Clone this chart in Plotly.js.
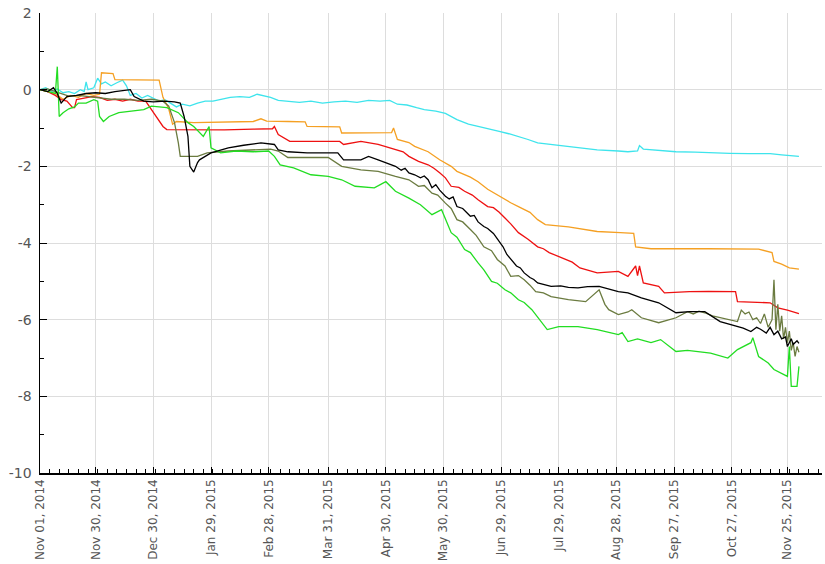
<!DOCTYPE html>
<html>
<head>
<meta charset="utf-8">
<script src="https://cdn.plot.ly/plotly-3.0.1.min.js"></script>
<style>html,body{margin:0;padding:0;background:#fff;}#chart{width:825px;height:564px;}</style>
</head>
<body>
<div id="chart"></div>
<script>
// ---- data ----
const cyanDates = ["2014-11-01","2014-11-04","2014-11-07","2014-11-10","2014-11-13","2014-11-16","2014-11-19","2014-11-22","2014-11-24","2014-11-25","2014-11-26","2014-11-29","2014-12-01","2014-12-03","2014-12-05","2014-12-08","2014-12-11","2014-12-14","2014-12-16","2014-12-18","2014-12-21","2014-12-24","2014-12-27","2014-12-29","2015-01-02","2015-01-05","2015-01-08","2015-01-11","2015-01-14","2015-01-18","2015-01-22","2015-01-26","2015-01-30","2015-02-03","2015-02-08","2015-02-13","2015-02-18","2015-02-22","2015-02-25","2015-03-01","2015-03-05","2015-03-10","2015-03-16","2015-03-22","2015-03-28","2015-04-03","2015-04-09","2015-04-15","2015-04-21","2015-04-27","2015-05-02","2015-05-06","2015-05-11","2015-05-16","2015-05-20","2015-05-26","2015-05-31","2015-06-06","2015-06-12","2015-06-17","2015-06-23","2015-06-28","2015-07-03","2015-07-08","2015-07-13","2015-07-18","2015-07-23","2015-07-29","2015-08-08","2015-08-18","2015-08-29","2015-09-03","2015-09-08","2015-09-09","2015-09-11","2015-09-18","2015-09-28","2015-10-08","2015-10-16","2015-10-26","2015-11-05","2015-11-16","2015-11-22","2015-11-26","2015-12-01"];
const cyanValues = [0,0.05,-0.05,0.02,-0.08,-0.05,-0.1,0.0,-0.05,0.2,0.0,0.05,0.3,0.15,0.2,0.1,0.18,0.25,0.1,-0.15,-0.1,-0.22,-0.15,-0.2,-0.3,-0.26,-0.35,-0.45,-0.38,-0.42,-0.35,-0.3,-0.3,-0.25,-0.2,-0.18,-0.2,-0.12,-0.15,-0.2,-0.28,-0.3,-0.33,-0.3,-0.35,-0.32,-0.3,-0.33,-0.28,-0.3,-0.28,-0.38,-0.4,-0.47,-0.52,-0.56,-0.62,-0.78,-0.9,-0.96,-1.02,-1.09,-1.15,-1.22,-1.3,-1.39,-1.42,-1.46,-1.52,-1.57,-1.6,-1.62,-1.6,-1.46,-1.55,-1.58,-1.62,-1.63,-1.65,-1.66,-1.67,-1.67,-1.7,-1.72,-1.74];

const orangeDates = ["2014-11-01","2014-11-05","2014-11-09","2014-11-13","2014-11-17","2014-11-21","2014-11-25","2014-11-29","2014-12-02","2014-12-03","2014-12-09","2014-12-10","2014-12-20","2014-12-28","2015-01-02","2015-01-04","2015-01-07","2015-01-09","2015-01-11","2015-01-20","2015-01-29","2015-02-10","2015-02-20","2015-02-24","2015-02-27","2015-03-10","2015-03-19","2015-03-20","2015-04-06","2015-04-07","2015-04-20","2015-05-03","2015-05-04","2015-05-06","2015-05-12","2015-05-15","2015-05-22","2015-05-28","2015-06-03","2015-06-06","2015-06-13","2015-06-17","2015-06-22","2015-06-28","2015-07-04","2015-07-08","2015-07-14","2015-07-18","2015-07-22","2015-08-03","2015-08-18","2015-08-30","2015-09-06","2015-09-07","2015-09-15","2015-10-15","2015-11-10","2015-11-17","2015-11-18","2015-11-22","2015-11-26","2015-12-01"];
const orangeValues = [0,-0.05,-0.1,-0.25,-0.15,-0.2,-0.1,-0.15,-0.12,0.44,0.42,0.26,0.26,0.25,0.25,-0.2,-0.5,-0.9,-0.83,-0.86,-0.85,-0.84,-0.83,-0.76,-0.82,-0.83,-0.84,-0.96,-0.97,-1.13,-1.12,-1.12,-1.0,-1.3,-1.38,-1.48,-1.62,-1.83,-2.0,-2.13,-2.28,-2.4,-2.6,-2.78,-2.95,-3.05,-3.2,-3.39,-3.52,-3.58,-3.7,-3.73,-3.75,-4.1,-4.15,-4.15,-4.16,-4.25,-4.48,-4.55,-4.65,-4.68];

const redDates = ["2014-11-01","2014-11-05","2014-11-09","2014-11-12","2014-11-15","2014-11-18","2014-11-19","2014-11-20","2014-11-24","2014-11-28","2014-12-02","2014-12-06","2014-12-10","2014-12-14","2014-12-18","2014-12-22","2014-12-26","2014-12-29","2014-12-31","2015-01-02","2015-01-04","2015-01-06","2015-01-20","2015-02-05","2015-02-20","2015-03-02","2015-03-03","2015-03-05","2015-03-11","2015-03-25","2015-04-06","2015-04-08","2015-04-17","2015-04-26","2015-05-05","2015-05-09","2015-05-12","2015-05-17","2015-05-22","2015-05-25","2015-05-28","2015-05-31","2015-06-03","2015-06-07","2015-06-10","2015-06-14","2015-06-17","2015-06-22","2015-06-25","2015-06-28","2015-07-01","2015-07-04","2015-07-08","2015-07-13","2015-07-18","2015-07-21","2015-07-24","2015-07-30","2015-08-05","2015-08-09","2015-08-18","2015-08-29","2015-09-03","2015-09-07","2015-09-08","2015-09-09","2015-09-11","2015-09-19","2015-09-22","2015-10-05","2015-10-15","2015-10-29","2015-10-30","2015-11-16","2015-11-20","2015-11-25","2015-12-01"];
const redValues = [0,-0.05,-0.15,-0.26,-0.3,-0.47,-0.47,-0.26,-0.22,-0.18,-0.2,-0.28,-0.25,-0.3,-0.25,-0.3,-0.3,-0.52,-0.65,-0.8,-0.96,-1.04,-1.04,-1.05,-1.03,-1.02,-0.96,-1.17,-1.35,-1.36,-1.35,-1.43,-1.35,-1.43,-1.57,-1.62,-1.74,-1.87,-1.96,-2.05,-2.17,-2.3,-2.52,-2.55,-2.65,-2.75,-2.87,-3.05,-3.08,-3.2,-3.35,-3.5,-3.73,-3.9,-4.1,-4.15,-4.25,-4.38,-4.5,-4.65,-4.78,-4.74,-4.87,-4.6,-4.85,-4.6,-5.04,-5.13,-5.3,-5.27,-5.26,-5.27,-5.53,-5.56,-5.69,-5.75,-5.84];

const blackDates = ["2014-11-01","2014-11-05","2014-11-08","2014-11-10","2014-11-12","2014-11-15","2014-11-20","2014-11-25","2014-11-30","2014-12-05","2014-12-10","2014-12-15","2014-12-18","2014-12-20","2014-12-25","2014-12-30","2015-01-05","2015-01-10","2015-01-13","2015-01-15","2015-01-17","2015-01-18","2015-01-20","2015-01-22","2015-01-23","2015-01-29","2015-02-07","2015-02-15","2015-02-24","2015-03-03","2015-03-05","2015-03-10","2015-03-20","2015-04-05","2015-04-08","2015-04-17","2015-04-21","2015-04-26","2015-05-05","2015-05-08","2015-05-10","2015-05-12","2015-05-15","2015-05-18","2015-05-20","2015-05-22","2015-05-24","2015-05-26","2015-05-28","2015-05-31","2015-06-02","2015-06-04","2015-06-06","2015-06-09","2015-06-11","2015-06-13","2015-06-15","2015-06-17","2015-06-20","2015-06-22","2015-06-25","2015-06-27","2015-06-30","2015-07-02","2015-07-04","2015-07-07","2015-07-09","2015-07-11","2015-07-14","2015-07-16","2015-07-18","2015-07-21","2015-07-25","2015-07-30","2015-08-03","2015-08-08","2015-08-13","2015-08-19","2015-08-29","2015-09-03","2015-09-10","2015-09-19","2015-09-28","2015-10-05","2015-10-13","2015-10-21","2015-10-25","2015-10-30","2015-11-02","2015-11-06","2015-11-09","2015-11-11","2015-11-14","2015-11-16","2015-11-18","2015-11-20","2015-11-22","2015-11-24","2015-11-25","2015-11-27","2015-11-28","2015-11-30","2015-12-01"];
const blackValues = [0,-0.05,0.05,-0.1,-0.35,-0.18,-0.15,-0.1,-0.08,-0.1,-0.05,-0.02,0.0,-0.18,-0.3,-0.32,-0.3,-0.32,-0.35,-0.7,-1.22,-2.0,-2.15,-1.9,-1.83,-1.65,-1.52,-1.45,-1.39,-1.43,-1.57,-1.62,-1.65,-1.65,-1.83,-1.83,-1.74,-1.83,-2.0,-2.1,-2.05,-2.17,-2.22,-2.3,-2.25,-2.35,-2.56,-2.48,-2.62,-2.78,-2.85,-2.8,-3.05,-3.1,-3.2,-3.3,-3.28,-3.45,-3.57,-3.62,-3.75,-3.9,-4.1,-4.3,-4.43,-4.6,-4.65,-4.78,-4.9,-4.95,-5.04,-5.08,-5.13,-5.12,-5.16,-5.17,-5.14,-5.13,-5.27,-5.3,-5.43,-5.56,-5.82,-5.79,-5.79,-6.05,-6.1,-6.18,-6.22,-6.31,-6.2,-6.25,-6.35,-6.2,-6.39,-6.3,-6.5,-6.45,-6.7,-6.5,-6.65,-6.55,-6.62];

const oliveDates = ["2014-11-01","2014-11-05","2014-11-09","2014-11-12","2014-11-16","2014-11-21","2014-11-26","2014-12-01","2014-12-08","2014-12-15","2014-12-22","2014-12-29","2015-01-04","2015-01-07","2015-01-10","2015-01-12","2015-01-13","2015-01-22","2015-01-27","2015-02-07","2015-02-20","2015-03-01","2015-03-05","2015-03-10","2015-03-31","2015-04-07","2015-04-17","2015-04-26","2015-05-05","2015-05-12","2015-05-17","2015-05-20","2015-05-24","2015-05-27","2015-05-31","2015-06-03","2015-06-06","2015-06-09","2015-06-13","2015-06-16","2015-06-20","2015-06-24","2015-06-27","2015-07-01","2015-07-04","2015-07-08","2015-07-11","2015-07-14","2015-07-17","2015-07-21","2015-07-25","2015-08-03","2015-08-12","2015-08-19","2015-08-22","2015-08-24","2015-08-29","2015-09-03","2015-09-05","2015-09-10","2015-09-19","2015-09-28","2015-10-04","2015-10-07","2015-10-10","2015-10-13","2015-10-17","2015-10-21","2015-10-25","2015-10-30","2015-11-01","2015-11-03","2015-11-05","2015-11-07","2015-11-09","2015-11-11","2015-11-13","2015-11-15","2015-11-17","2015-11-18","2015-11-19","2015-11-20","2015-11-21","2015-11-22","2015-11-23","2015-11-24","2015-11-25","2015-11-26","2015-11-27","2015-11-28","2015-11-29","2015-11-30","2015-12-01"];
const oliveValues = [0,0.02,-0.05,-0.1,-0.17,-0.15,-0.18,-0.22,-0.25,-0.25,-0.28,-0.25,-0.3,-0.43,-0.86,-1.39,-1.74,-1.74,-1.65,-1.6,-1.58,-1.55,-1.6,-1.77,-1.77,-2.0,-2.09,-2.13,-2.26,-2.35,-2.52,-2.5,-2.7,-2.75,-2.96,-3.1,-3.39,-3.45,-3.65,-3.8,-4.1,-4.2,-4.43,-4.6,-4.87,-4.85,-4.96,-5.1,-5.27,-5.3,-5.4,-5.48,-5.53,-5.22,-5.6,-5.74,-5.87,-5.8,-5.74,-5.95,-6.08,-5.95,-5.79,-5.85,-5.78,-5.82,-5.9,-5.95,-6.0,-6.05,-5.75,-5.85,-5.8,-6.0,-5.95,-6.1,-5.85,-6.2,-6.0,-4.96,-6.26,-5.6,-6.3,-5.9,-6.5,-6.2,-6.6,-6.3,-6.8,-6.6,-6.96,-6.7,-6.85];

const greenDates = ["2014-11-01","2014-11-05","2014-11-09","2014-11-10","2014-11-11","2014-11-13","2014-11-16","2014-11-19","2014-11-21","2014-11-25","2014-11-29","2014-12-01","2014-12-02","2014-12-04","2014-12-07","2014-12-12","2014-12-17","2014-12-25","2014-12-29","2015-01-06","2015-01-12","2015-01-17","2015-01-20","2015-01-25","2015-01-28","2015-01-29","2015-02-03","2015-02-11","2015-02-20","2015-02-28","2015-03-03","2015-03-06","2015-03-13","2015-03-22","2015-03-31","2015-04-07","2015-04-14","2015-04-24","2015-04-30","2015-05-05","2015-05-12","2015-05-18","2015-05-24","2015-05-29","2015-06-03","2015-06-06","2015-06-10","2015-06-13","2015-06-17","2015-06-20","2015-06-24","2015-06-27","2015-07-01","2015-07-04","2015-07-08","2015-07-11","2015-07-15","2015-07-20","2015-07-23","2015-07-29","2015-08-08","2015-08-18","2015-08-29","2015-08-31","2015-09-03","2015-09-08","2015-09-15","2015-09-20","2015-09-28","2015-10-04","2015-10-16","2015-10-25","2015-10-30","2015-11-06","2015-11-07","2015-11-10","2015-11-15","2015-11-18","2015-11-22","2015-11-25","2015-11-26","2015-11-27","2015-11-30","2015-12-01"];
const greenValues = [0,-0.05,-0.1,0.6,-0.7,-0.6,-0.5,-0.45,-0.35,-0.35,-0.26,-0.3,-0.7,-0.83,-0.7,-0.6,-0.57,-0.52,-0.43,-0.47,-0.6,-0.86,-0.96,-1.22,-0.96,-1.52,-1.65,-1.6,-1.62,-1.6,-1.74,-1.96,-2.04,-2.22,-2.26,-2.35,-2.52,-2.56,-2.4,-2.65,-2.83,-3.0,-3.26,-3.13,-3.73,-3.85,-4.17,-4.25,-4.52,-4.7,-5.0,-5.05,-5.22,-5.3,-5.48,-5.55,-5.74,-6.08,-6.26,-6.18,-6.18,-6.26,-6.39,-6.34,-6.57,-6.5,-6.6,-6.52,-6.83,-6.8,-6.87,-7.0,-6.78,-6.6,-6.47,-6.96,-7.13,-7.3,-7.4,-7.48,-6.7,-7.74,-7.74,-7.22];

const xTickDates = ["2014-11-01","2014-11-30","2014-12-30","2015-01-29","2015-02-28","2015-03-31","2015-04-30","2015-05-30","2015-06-29","2015-07-29","2015-08-28","2015-09-27","2015-10-27","2015-11-25"];
const xTickLabels = ["Nov 01, 2014","Nov 30, 2014","Dec 30, 2014","Jan 29, 2015","Feb 28, 2015","Mar 31, 2015","Apr 30, 2015","May 30, 2015","Jun 29, 2015","Jul 29, 2015","Aug 28, 2015","Sep 27, 2015","Oct 27, 2015","Nov 25, 2015"];
const yTickValues = [-10,-8,-6,-4,-2,0,2];
const yTickLabels = ["-10","-8","-6","-4","-2","0","2"];

// ---- chart ----
const seriesList = [
  {x: cyanDates, y: cyanValues, color: "#3ee4ec"},
  {x: orangeDates, y: orangeValues, color: "#f5a023"},
  {x: redDates, y: redValues, color: "#ee1111"},
  {x: oliveDates, y: oliveValues, color: "#6b7b40"},
  {x: greenDates, y: greenValues, color: "#22dd22"},
  {x: blackDates, y: blackValues, color: "#000000"}
];
const traces = seriesList.map(s => ({
  type: "scatter", mode: "lines", x: s.x, y: s.y,
  line: {color: s.color, width: 1.3}, hoverinfo: "skip"
}));

const layout = {
  width: 825, height: 564,
  margin: {l: 40, r: 3, t: 13, b: 91},
  paper_bgcolor: "#fff", plot_bgcolor: "#fff",
  showlegend: false,
  font: {family: "DejaVu Sans, Verdana, sans-serif", color: "#555"},
  xaxis: {
    type: "date",
    range: ["2014-11-01", "2015-12-13"],
    tickmode: "array", tickvals: xTickDates, ticktext: xTickLabels,
    tickangle: -90, tickfont: {size: 12, color: "#555"},
    ticks: "inside", ticklen: 6, tickcolor: "#000", tickwidth: 1,
    showgrid: true, gridcolor: "#dddddd", gridwidth: 1,
    showline: true, linecolor: "#000", linewidth: 1.5,
    zeroline: false,
    minor: {tickmode: "linear", tick0: "2014-11-01", dtick: 5 * 86400000, ticks: "inside", ticklen: 4, tickcolor: "#000", showgrid: false}
  },
  yaxis: {
    range: [-10, 2],
    tickmode: "array", tickvals: yTickValues, ticktext: yTickLabels,
    tickfont: {size: 14, color: "#555"},
    ticklabelstandoff: 4,
    ticks: "inside", ticklen: 7, tickcolor: "#000", tickwidth: 1,
    showgrid: true, gridcolor: "#dddddd", gridwidth: 1,
    showline: true, linecolor: "#000", linewidth: 1.5,
    zeroline: false,
    minor: {tickmode: "linear", tick0: -9, dtick: 1, ticks: "inside", ticklen: 4, tickcolor: "#000", showgrid: false}
  }
};

Plotly.newPlot("chart", traces, layout, {displayModeBar: false, staticPlot: true});
</script>
</body>
</html>
